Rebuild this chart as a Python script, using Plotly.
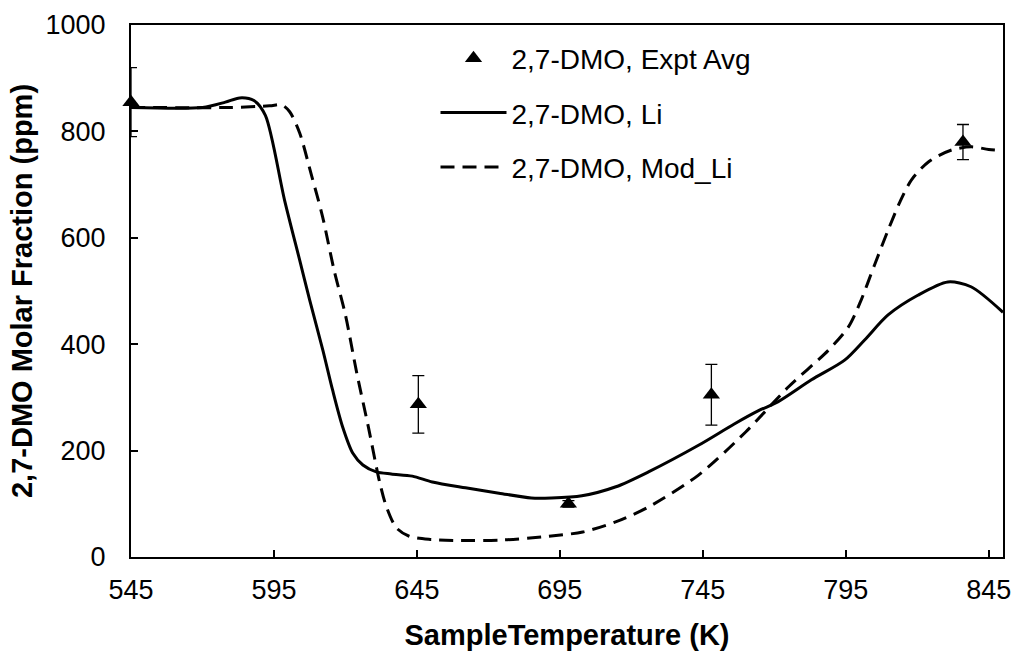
import plotly.graph_objects as go

# Experimental averages
expt_T = [545, 645.5, 698, 748, 836]
expt_ppm = [855, 287, 100, 305, 780]
expt_err = [65, 54, 6, 57, 33]

# Li model
li_T = [545, 570, 578, 583, 588, 592, 598.7, 604, 607.5, 612.1, 615.5, 619, 622.6,
        626.1, 630.8, 636, 643.4, 650.4, 662, 673.7, 685, 692, 702.7, 714.6, 726,
        743.5, 756, 764.5, 771.4, 783, 794.6, 801.6, 809.8, 820.2, 830.7, 838.8, 850]
li_ppm = [845, 845, 855, 863, 858, 830, 671, 558, 483, 389, 314, 245, 195,
          173, 160, 156, 152, 141, 130, 120, 111, 111, 115, 132, 160,
          210, 250, 275, 292, 333, 370, 408, 455, 492, 517, 508, 460]

# Mod_Li model
mod_T = [545, 580, 593.5, 597.7, 600.5, 604, 608, 612, 616, 620, 624, 628, 632,
         634.3, 637.8, 642.3, 650, 660, 675, 691, 703, 714.5, 726, 743.5, 760,
         775, 789, 796, 800, 805, 810, 814, 818, 824, 832, 839, 845, 850]
mod_ppm = [845, 845, 848, 850, 837, 797, 720, 640, 540, 455, 345, 245, 140,
           95, 55, 39, 33, 31, 32, 39, 47, 66, 94, 154, 235,
           320, 389, 433, 478, 548, 617, 668, 709, 743, 765, 771, 766, 764]

x_ticks = [545, 595, 645, 695, 745, 795, 845]
y_ticks = [0, 200, 400, 600, 800, 1000]

FONT = "Liberation Sans, Arial, sans-serif"

fig = go.Figure()
fig.add_trace(go.Scatter(
    x=expt_T, y=expt_ppm, mode="markers", name="2,7-DMO, Expt Avg",
    legendgroup="a", cliponaxis=False,
    marker=dict(symbol="triangle-up", size=15, color="black"),
    error_y=dict(type="data", array=expt_err, visible=True, color="black",
                 thickness=1.3, width=6),
))
fig.add_trace(go.Scatter(
    x=li_T, y=li_ppm, mode="lines", name="2,7-DMO, Li", legendgroup="b",
    line=dict(color="black", width=3, shape="spline", smoothing=0.8),
))
fig.add_trace(go.Scatter(
    x=mod_T, y=mod_ppm, mode="lines", name="2,7-DMO, Mod_Li", legendgroup="c",
    line=dict(color="black", width=3, dash="14px,8px", shape="spline", smoothing=0.8),
))

fig.update_layout(
    width=1015, height=653,
    margin=dict(l=131, r=12, t=25, b=96),
    paper_bgcolor="white", plot_bgcolor="white",
    font=dict(family=FONT, size=27, color="black"),
    legend=dict(x=0.3492, y=0.984, xanchor="left", yanchor="top",
                bgcolor="rgba(0,0,0,0)", font=dict(size=28),
                tracegroupgap=15, itemwidth=66),
    xaxis=dict(range=[545, 850], tickvals=x_ticks, ticks="inside", ticklen=7,
               tickwidth=1.5, tickcolor="black", showgrid=False, zeroline=False,
               showline=True, linecolor="black", linewidth=2, mirror=True,
               ticklabelstandoff=8, automargin=False,
               title=dict(text="<b>SampleTemperature (K)</b>", font=dict(size=29), standoff=20),
               tickfont=dict(size=27)),
    yaxis=dict(range=[0, 1000], tickvals=y_ticks, ticks="inside", ticklen=7,
               tickwidth=1.5, tickcolor="black", showgrid=False, zeroline=False,
               showline=True, linecolor="black", linewidth=2, mirror=True,
               ticklabelstandoff=18, automargin=False,
               title=dict(text="<b>2,7-DMO Molar Fraction (ppm)</b>", font=dict(size=29), standoff=4),
               tickfont=dict(size=27)),
)

fig.write_html("out.html")
